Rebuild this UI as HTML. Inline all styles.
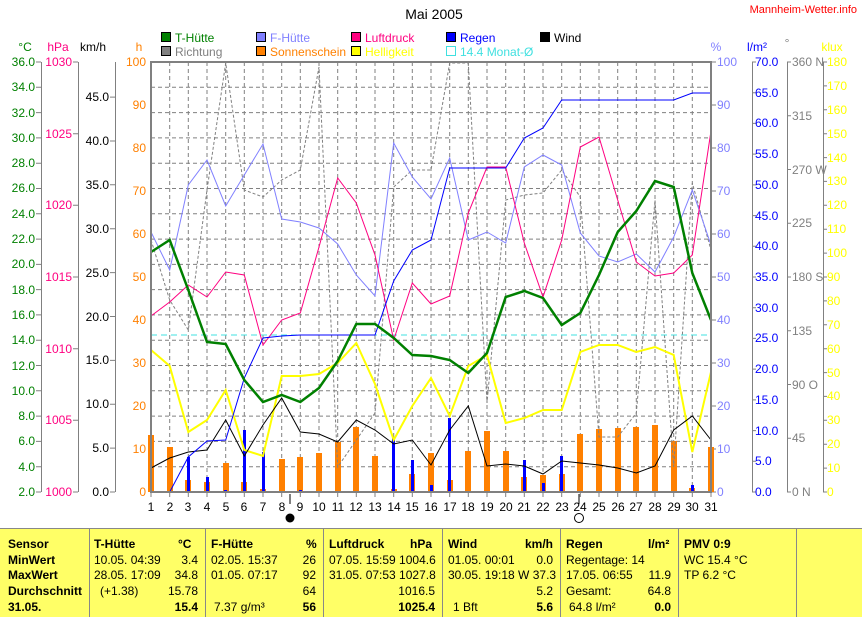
<!DOCTYPE html>
<html><head><meta charset="utf-8"><style>
body{margin:0;background:#fff;width:862px;height:616px;overflow:hidden;position:relative;font-family:"Liberation Sans",sans-serif}
svg{position:absolute;left:0;top:0}
.tb{position:absolute;left:0;top:528px;width:862px;height:88px;background:#ffff66;border-top:1px solid #888}
.c{position:absolute;font-size:12px;color:#000;white-space:nowrap}
.b{font-weight:bold}
.v{position:absolute;top:0;width:1px;height:88px;background:#888}
</style></head><body>
<svg width="862" height="616" font-family="Liberation Sans, sans-serif" font-size="12">
<text x="434" y="19" text-anchor="middle" font-size="14">Mai 2005</text>
<text x="857" y="13" text-anchor="end" fill="#ff0000" font-size="11">Mannheim-Wetter.info</text>
<g stroke="#000" stroke-width="1">
<rect x="161.5" y="32.5" width="9" height="9" fill="#008000"/><rect x="256.5" y="32.5" width="9" height="9" fill="#8080ff"/>
<rect x="351.5" y="32.5" width="9" height="9" fill="#ff0080"/><rect x="446.5" y="32.5" width="9" height="9" fill="#0000ff"/>
<rect x="540.5" y="32.5" width="9" height="9" fill="#000"/>
<rect x="161.5" y="46.5" width="9" height="9" fill="#808080"/><rect x="256.5" y="46.5" width="9" height="9" fill="#ff8000"/>
<rect x="351.5" y="46.5" width="9" height="9" fill="#ffff00"/><rect x="446.5" y="46.5" width="9" height="9" fill="none" stroke="#40e0e0"/>
</g>
<text x="175" y="42" fill="#008000">T-Hütte</text><text x="270" y="42" fill="#8080ff">F-Hütte</text>
<text x="365" y="42" fill="#ff0080">Luftdruck</text><text x="460" y="42" fill="#0000ff">Regen</text><text x="554" y="42">Wind</text>
<text x="175" y="56" fill="#808080">Richtung</text><text x="270" y="56" fill="#ff8000">Sonnenschein</text>
<text x="365" y="56" fill="#ffff00">Helligkeit</text><text x="460" y="56" fill="#40e0e0">14.4 Monat-Ø</text>
<text x="25" y="51" fill="#008000" text-anchor="middle">°C</text><text x="58" y="51" fill="#ff0080" text-anchor="middle">hPa</text>
<text x="93" y="51" text-anchor="middle">km/h</text><text x="139" y="51" fill="#ff8000" text-anchor="middle">h</text>
<text x="716" y="51" fill="#8080ff" text-anchor="middle">%</text><text x="757" y="51" fill="#0000ff" text-anchor="middle">l/m²</text>
<text x="787" y="47" fill="#808080" text-anchor="middle">°</text><text x="832" y="51" fill="#ffff00" text-anchor="middle">klux</text>
<g stroke="#808080" stroke-width="1">
<line x1="41.5" y1="62" x2="41.5" y2="492"/><line x1="78.5" y1="62" x2="78.5" y2="492"/><line x1="115.5" y1="62" x2="115.5" y2="492"/>
<line x1="752.5" y1="62" x2="752.5" y2="492"/><line x1="787.5" y1="62" x2="787.5" y2="492"/><line x1="823.5" y1="62" x2="823.5" y2="492"/>
</g>
<g fill="#008000" text-anchor="end">
<text x="35" y="66">36.0</text><text x="35" y="91">34.0</text><text x="35" y="117">32.0</text><text x="35" y="142">30.0</text><text x="35" y="167">28.0</text><text x="35" y="192">26.0</text><text x="35" y="218">24.0</text><text x="35" y="243">22.0</text><text x="35" y="268">20.0</text><text x="35" y="294">18.0</text><text x="35" y="319">16.0</text><text x="35" y="344">14.0</text><text x="35" y="370">12.0</text><text x="35" y="395">10.0</text><text x="35" y="420">8.0</text><text x="35" y="445">6.0</text><text x="35" y="471">4.0</text><text x="35" y="496">2.0</text>
</g>
<g stroke="#808080"><path d="M36 62H41M36 87.3H41M36 112.6H41M36 137.9H41M36 163.2H41M36 188.5H41M36 213.8H41M36 239.1H41M36 264.4H41M36 289.6H41M36 314.9H41M36 340.2H41M36 365.5H41M36 390.8H41M36 416.1H41M36 441.4H41M36 466.7H41M36 492H41"/>
<path d="M73 62H78M73 133.7H78M73 205.3H78M73 277H78M73 348.7H78M73 420.3H78M73 492H78"/>
<path d="M110 97.1H115M110 141H115M110 184.8H115M110 228.7H115M110 272.6H115M110 316.5H115M110 360.4H115M110 404.2H115M110 448.1H115M110 492H115"/>
<path d="M711 62H716M711 105H716M711 148H716M711 191H716M711 234H716M711 277H716M711 320H716M711 363H716M711 406H716M711 449H716M711 492H716"/>
<path d="M752 62H756M752 92.7H756M752 123.4H756M752 154.1H756M752 184.9H756M752 215.6H756M752 246.3H756M752 277H756M752 307.7H756M752 338.4H756M752 369.1H756M752 399.9H756M752 430.6H756M752 461.3H756M752 492H756"/>
<path d="M787 62H791M787 115.8H791M787 169.5H791M787 223.3H791M787 277H791M787 330.8H791M787 384.5H791M787 438.3H791M787 492H791"/>
<path d="M823 62H827M823 85.9H827M823 109.8H827M823 133.7H827M823 157.6H827M823 181.4H827M823 205.3H827M823 229.2H827M823 253.1H827M823 277H827M823 300.9H827M823 324.8H827M823 348.7H827M823 372.6H827M823 396.4H827M823 420.3H827M823 444.2H827M823 468.1H827M823 492H827"/></g>
<g fill="#ff0080" text-anchor="end">
<text x="72" y="66">1030</text><text x="72" y="138">1025</text><text x="72" y="209">1020</text><text x="72" y="281">1015</text><text x="72" y="353">1010</text><text x="72" y="424">1005</text><text x="72" y="496">1000</text></g>
<g text-anchor="end">
<text x="109" y="101">45.0</text><text x="109" y="145">40.0</text><text x="109" y="189">35.0</text><text x="109" y="233">30.0</text><text x="109" y="277">25.0</text><text x="109" y="321">20.0</text><text x="109" y="364">15.0</text><text x="109" y="408">10.0</text><text x="109" y="452">5.0</text><text x="109" y="496">0.0</text></g>
<g fill="#ff8000" text-anchor="end">
<text x="146" y="66">100</text><text x="146" y="109">90</text><text x="146" y="152">80</text><text x="146" y="195">70</text><text x="146" y="238">60</text><text x="146" y="281">50</text><text x="146" y="324">40</text><text x="146" y="367">30</text><text x="146" y="410">20</text><text x="146" y="453">10</text><text x="146" y="496">0</text></g>
<g fill="#8080ff">
<text x="717" y="66">100</text><text x="717" y="109">90</text><text x="717" y="152">80</text><text x="717" y="195">70</text><text x="717" y="238">60</text><text x="717" y="281">50</text><text x="717" y="324">40</text><text x="717" y="367">30</text><text x="717" y="410">20</text><text x="717" y="453">10</text><text x="717" y="496">0</text></g>
<g fill="#0000ff">
<text x="755" y="66">70.0</text><text x="755" y="97">65.0</text><text x="755" y="127">60.0</text><text x="755" y="158">55.0</text><text x="755" y="189">50.0</text><text x="755" y="220">45.0</text><text x="755" y="250">40.0</text><text x="755" y="281">35.0</text><text x="755" y="312">30.0</text><text x="755" y="342">25.0</text><text x="755" y="373">20.0</text><text x="755" y="404">15.0</text><text x="755" y="435">10.0</text><text x="755" y="465">5.0</text><text x="755" y="496">0.0</text></g>
<g fill="#808080">
<text x="792" y="66">360 N</text><text x="792" y="120">315</text><text x="792" y="174">270 W</text><text x="792" y="227">225</text><text x="792" y="281">180 S</text><text x="792" y="335">135</text><text x="792" y="389">90  O</text><text x="792" y="442">45</text><text x="792" y="496">0 N</text></g>
<g fill="#ffff00">
<text x="827" y="66">180</text><text x="827" y="90">170</text><text x="827" y="114">160</text><text x="827" y="138">150</text><text x="827" y="162">140</text><text x="827" y="185">130</text><text x="827" y="209">120</text><text x="827" y="233">110</text><text x="827" y="257">100</text><text x="827" y="281">90</text><text x="827" y="305">80</text><text x="827" y="329">70</text><text x="827" y="353">60</text><text x="827" y="377">50</text><text x="827" y="400">40</text><text x="827" y="424">30</text><text x="827" y="448">20</text><text x="827" y="472">10</text><text x="827" y="496">0</text></g>
<g stroke="#808080" stroke-dasharray="4,3" stroke-width="1">
<path d="M151 87.3H711M151 112.6H711M151 137.9H711M151 163.2H711M151 188.5H711M151 213.8H711M151 239.1H711M151 264.4H711M151 289.6H711M151 314.9H711M151 340.2H711M151 365.5H711M151 390.8H711M151 416.1H711M151 441.4H711M151 466.7H711"/>
<path d="M169.7 62V492M188.3 62V492M207 62V492M225.7 62V492M244.3 62V492M263 62V492M281.7 62V492M300.3 62V492M319 62V492M337.7 62V492M356.3 62V492M375 62V492M393.7 62V492M412.3 62V492M431 62V492M449.7 62V492M468.3 62V492M487 62V492M505.7 62V492M524.3 62V492M543 62V492M561.7 62V492M580.3 62V492M599 62V492M617.7 62V492M636.3 62V492M655 62V492M673.7 62V492M692.3 62V492"/>
</g>
<g fill="#ff8000">
<rect x="148" y="435" width="6" height="57"/><rect x="167" y="447" width="6" height="45"/><rect x="185" y="480" width="6" height="12"/><rect x="204" y="482" width="6" height="10"/><rect x="223" y="463" width="6" height="29"/><rect x="241" y="482" width="6" height="10"/><rect x="260" y="489" width="6" height="3"/><rect x="279" y="459" width="6" height="33"/><rect x="297" y="457" width="6" height="35"/><rect x="316" y="453" width="6" height="39"/><rect x="335" y="442" width="6" height="50"/><rect x="353" y="427" width="6" height="65"/><rect x="372" y="456" width="6" height="36"/><rect x="391" y="489" width="6" height="3"/><rect x="409" y="474" width="6" height="18"/><rect x="428" y="453" width="6" height="39"/><rect x="447" y="480" width="6" height="12"/><rect x="465" y="451" width="6" height="41"/><rect x="484" y="431" width="6" height="61"/><rect x="503" y="451" width="6" height="41"/><rect x="521" y="477" width="6" height="15"/><rect x="540" y="475" width="6" height="17"/><rect x="559" y="474" width="6" height="18"/><rect x="577" y="434" width="6" height="58"/><rect x="596" y="429" width="6" height="63"/><rect x="615" y="428" width="6" height="64"/><rect x="633" y="427" width="6" height="65"/><rect x="652" y="425" width="6" height="67"/><rect x="671" y="441" width="6" height="51"/><rect x="689" y="488" width="6" height="4"/><rect x="708" y="447" width="6" height="45"/>
</g>
<g fill="#0000ff">
<rect x="187" y="457" width="3" height="35"/><rect x="206" y="477" width="3" height="15"/><rect x="224" y="490" width="3" height="2"/><rect x="243" y="430" width="3" height="62"/><rect x="262" y="452" width="3" height="40"/><rect x="299" y="490" width="3" height="2"/><rect x="392" y="437" width="3" height="55"/><rect x="411" y="460" width="3" height="32"/><rect x="430" y="485" width="3" height="7"/><rect x="448" y="418" width="3" height="74"/><rect x="523" y="460" width="3" height="32"/><rect x="542" y="483" width="3" height="9"/><rect x="560" y="456" width="3" height="36"/><rect x="691" y="485" width="3" height="7"/>
</g>
<polyline fill="none" stroke="#808080" stroke-dasharray="3,2" points="151,240 169.7,300 188.3,330 207,190 225.7,63 244.3,190 263,197 281.7,180 300.3,170 319,67 337.7,467 356.3,440 375,413 393.7,187 412.3,170 431,170 449.7,63 468.3,63 487,403 505.7,200 524.3,195 543,193 561.7,170 580.3,197 599,437 617.7,437 636.3,413 655,200 673.7,467 692.3,183 711,250"/>
<line x1="151" y1="335" x2="711" y2="335" stroke="#40e0e0" stroke-dasharray="6,4"/>
<polyline fill="none" stroke="#ffff00" stroke-width="2" points="151,350 169.7,366 188.3,432 207,420 225.7,390 244.3,450 263,456 281.7,376 300.3,376 319,374 337.7,363 356.3,343 375,384 393.7,440 412.3,406 431,378 449.7,416 468.3,366 487,355 505.7,423 524.3,418 543,410 561.7,410 580.3,352 599,345 617.7,345 636.3,352 655,347 673.7,355 692.3,452 711,372"/>
<polyline fill="none" stroke="#000" stroke-width="1" points="151,468 169.7,458 188.3,452 207,450 225.7,420 244.3,456 263,425 281.7,398 300.3,432 319,434 337.7,442 356.3,420 375,430 393.7,444 412.3,440 431,465 449.7,430 468.3,406 487,466 505.7,464 524.3,466 543,474 561.7,461 580.3,463 599,465 617.7,468 636.3,473 655,466 673.7,430 692.3,416 711,440"/>
<polyline fill="none" stroke="#8080ff" stroke-width="1" points="151,232 169.7,270 188.3,185 207,160 225.7,206 244.3,175 263,144 281.7,219 300.3,222 319,228 337.7,244 356.3,275 375,296 393.7,143 412.3,177 431,199 449.7,158 468.3,240 487,232 505.7,243 524.3,167 543,155 561.7,165 580.3,233 599,256 617.7,262 636.3,254 655,272 673.7,237 692.3,190 711,245"/>
<polyline fill="none" stroke="#ff0080" stroke-width="1" points="151,316 169.7,302 188.3,285 207,297 225.7,272 244.3,275 263,345 281.7,320 300.3,313 319,247 337.7,178 356.3,203 375,255 393.7,340 412.3,283 431,304 449.7,296 468.3,213 487,167 505.7,167 524.3,243 543,297 561.7,240 580.3,147 599,137 617.7,200 636.3,262 655,276 673.7,273 692.3,255 711,131"/>
<polyline fill="none" stroke="#0000ff" stroke-width="1" points="151,492 169.7,492 188.3,457 207,441 225.7,440 244.3,378 263,338 281.7,336 300.3,335 319,335 337.7,335 356.3,335 375,335 393.7,281 412.3,250 431,240 449.7,168 468.3,168 487,168 505.7,168 524.3,138 543,128 561.7,100 580.3,100 599,100 617.7,100 636.3,100 655,100 673.7,100 692.3,93 711,93"/>
<polyline fill="none" stroke="#008000" stroke-width="2.5" points="151,252 169.7,240 188.3,290 207,342 225.7,344 244.3,380 263,402 281.7,395 300.3,402 319,388 337.7,361 356.3,324 375,324 393.7,338 412.3,355 431,356 449.7,360 468.3,373 487,353 505.7,297 524.3,291 543,298 561.7,325 580.3,313 599,275 617.7,232 636.3,211 655,181 673.7,187 692.3,273 711,320"/>
<rect x="151" y="62" width="560" height="430" fill="none" stroke="#808080" stroke-width="2"/>
<g stroke="#808080"><path d="M151 492V497M169.7 492V497M188.3 492V497M207 492V497M225.7 492V497M244.3 492V497M263 492V497M281.7 492V497M300.3 492V497M319 492V497M337.7 492V497M356.3 492V497M375 492V497M393.7 492V497M412.3 492V497M431 492V497M449.7 492V497M468.3 492V497M487 492V497M505.7 492V497M524.3 492V497M543 492V497M561.7 492V497M580.3 492V497M599 492V497M617.7 492V497M636.3 492V497M655 492V497M673.7 492V497M692.3 492V497M711 492V497"/></g>
<path d="M290 494V504M579 494V504" stroke="#000"/>
<g text-anchor="middle">
<text x="151" y="511">1</text><text x="170" y="511">2</text><text x="188" y="511">3</text><text x="207" y="511">4</text><text x="226" y="511">5</text><text x="244" y="511">6</text><text x="263" y="511">7</text><text x="282" y="511">8</text><text x="300" y="511">9</text><text x="319" y="511">10</text><text x="338" y="511">11</text><text x="356" y="511">12</text><text x="375" y="511">13</text><text x="394" y="511">14</text><text x="412" y="511">15</text><text x="431" y="511">16</text><text x="450" y="511">17</text><text x="468" y="511">18</text><text x="487" y="511">19</text><text x="506" y="511">20</text><text x="524" y="511">21</text><text x="543" y="511">22</text><text x="562" y="511">23</text><text x="580" y="511">24</text><text x="599" y="511">25</text><text x="618" y="511">26</text><text x="636" y="511">27</text><text x="655" y="511">28</text><text x="674" y="511">29</text><text x="692" y="511">30</text><text x="711" y="511">31</text></g>
<circle cx="290" cy="518" r="4.5" fill="#000"/><circle cx="579" cy="518" r="4.5" fill="none" stroke="#000"/>
</svg>
<div class="tb">
<div class="v" style="left:89px"></div><div class="v" style="left:205px"></div><div class="v" style="left:323px"></div><div class="v" style="left:442px"></div><div class="v" style="left:560px"></div><div class="v" style="left:678px"></div><div class="v" style="left:796px"></div>
<div class="c b" style="left:8px;top:8px">Sensor</div><div class="c b" style="left:8px;top:24px">MinWert</div><div class="c b" style="left:8px;top:39px">MaxWert</div><div class="c b" style="left:8px;top:55px">Durchschnitt</div><div class="c b" style="left:8px;top:71px">31.05.</div>
<div class="c b" style="left:94px;top:8px">T-Hütte</div><div class="c b" style="left:178px;top:8px">°C</div>
<div class="c" style="left:94px;top:24px">10.05.  04:39</div><div class="c" style="right:664px;top:24px">3.4</div>
<div class="c" style="left:94px;top:39px">28.05.  17:09</div><div class="c" style="right:664px;top:39px">34.8</div>
<div class="c" style="left:100px;top:55px">(+1.38)</div><div class="c" style="right:664px;top:55px">15.78</div>
<div class="c b" style="right:664px;top:71px">15.4</div>
<div class="c b" style="left:211px;top:8px">F-Hütte</div><div class="c b" style="left:306px;top:8px">%</div>
<div class="c" style="left:211px;top:24px">02.05.  15:37</div><div class="c" style="right:546px;top:24px">26</div>
<div class="c" style="left:211px;top:39px">01.05.  07:17</div><div class="c" style="right:546px;top:39px">92</div>
<div class="c" style="right:546px;top:55px">64</div>
<div class="c" style="left:214px;top:71px">7.37 g/m³</div><div class="c b" style="right:546px;top:71px">56</div>
<div class="c b" style="left:329px;top:8px">Luftdruck</div><div class="c b" style="left:410px;top:8px">hPa</div>
<div class="c" style="left:329px;top:24px">07.05.  15:59  1004.6</div>
<div class="c" style="left:329px;top:39px">31.05.  07:53  1027.8</div>
<div class="c" style="right:427px;top:55px">1016.5</div><div class="c b" style="right:427px;top:71px">1025.4</div>
<div class="c b" style="left:448px;top:8px">Wind</div><div class="c b" style="left:525px;top:8px">km/h</div>
<div class="c" style="left:448px;top:24px">01.05.  00:01</div><div class="c" style="right:309px;top:24px">0.0</div>
<div class="c" style="left:448px;top:39px">30.05.  19:18  W 37.3</div>
<div class="c" style="right:309px;top:55px">5.2</div>
<div class="c" style="left:453px;top:71px">1 Bft</div><div class="c b" style="right:309px;top:71px">5.6</div>
<div class="c b" style="left:566px;top:8px">Regen</div><div class="c b" style="left:648px;top:8px">l/m²</div>
<div class="c" style="left:566px;top:24px">Regentage: 14</div>
<div class="c" style="left:566px;top:39px">17.05.  06:55</div><div class="c" style="right:191px;top:39px">11.9</div>
<div class="c" style="left:566px;top:55px">Gesamt:</div><div class="c" style="right:191px;top:55px">64.8</div>
<div class="c" style="left:569px;top:71px">64.8 l/m²</div><div class="c b" style="right:191px;top:71px">0.0</div>
<div class="c b" style="left:684px;top:8px">PMV 0:9</div>
<div class="c" style="left:684px;top:24px">WC 15.4 °C</div>
<div class="c" style="left:684px;top:39px">TP 6.2 °C</div>
</div>
</body></html>
